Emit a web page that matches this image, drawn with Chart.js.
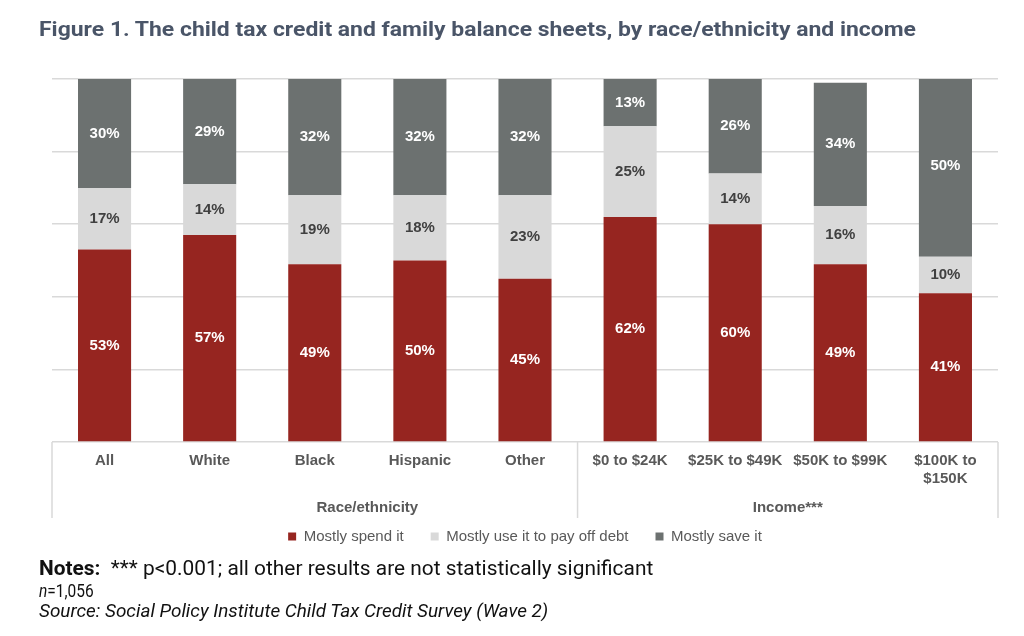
<!DOCTYPE html>
<html>
<head>
<meta charset="utf-8">
<script src="https://cdn.jsdelivr.net/npm/chart.js@4.4.0/dist/chart.umd.min.js"></script>
<style>
  body { margin: 0; background: #fff; }
  #page { position: relative; width: 1024px; height: 636px; overflow: hidden; font-family: Roboto, "Liberation Sans", sans-serif; }
  #chartBox { position: absolute; left: 0; top: 0; width: 1024px; height: 636px; }
  .txt { position: absolute; left: 39px; white-space: nowrap; transform-origin: 0 50%; line-height: 1; }
  #title { top: 19px; font-size: 21px; font-weight: 700; color: #4a5568; }
  #notes { top: 558px; font-size: 20px; color: #111; }
  #nline { top: 582px; font-size: 18px; color: #111; }
  #source { top: 602px; font-size: 18.5px; color: #111; font-style: italic; }
</style>
</head>
<body>
<div id="page">
  <div id="chartBox"><canvas id="myChart" width="1024" height="636"></canvas></div>
  <div class="txt" id="title">Figure 1. The child tax credit and family balance sheets, by race/ethnicity and income</div>
  <div class="txt" id="notes"><b>Notes:</b>&nbsp; *** p&lt;0.001; all other results are not statistically significant</div>
  <div class="txt" id="nline"><i>n</i>=1,056</div>
  <div class="txt" id="source">Source: Social Policy Institute Child Tax Credit Survey (Wave 2)</div>
</div>
<script>
// values (percent of respondents)
var categories = ["All", "White", "Black", "Hispanic", "Other", "$0 to $24K", "$25K to $49K", "$50K to $99K", "$100K to $150K"];
var tickLabels = ["All", "White", "Black", "Hispanic", "Other", "$0 to $24K", "$25K to $49K", "$50K to $99K", ["$100K to", "$150K"]];
var spend = [53, 57, 49, 50, 45, 62, 60, 49, 41];
var payDebt = [17, 14, 19, 18, 23, 25, 14, 16, 10];
var save = [30, 29, 32, 32, 32, 13, 26, 34, 50];
var seriesNames = ["Mostly spend it", "Mostly use it to pay off debt", "Mostly save it"];
var groupNames = ["Race/ethnicity", "Income***"];
var groupStart = [1, 5];
var groupEnd = [4, 8];

var colors = ["#962520", "#d9d9d9", "#6c7170"];
var labelColors = ["#ffffff", "#404040", "#ffffff"];
var FONT = "'Liberation Sans', Arial, sans-serif";

// stretch the html text lines to the widths in the figure
function fit(id, w) {
  var el = document.getElementById(id);
  el.style.transform = "scaleX(" + (w / el.offsetWidth) + ")";
}
fit("title", 877);
fit("notes", 614);
fit("nline", 55);
fit("source", 509);

var valueLabels = {
  id: "valueLabels",
  afterDatasetsDraw: function(chart) {
    var ctx = chart.ctx;
    ctx.save();
    ctx.font = "bold 15px " + FONT;
    ctx.textAlign = "center";
    ctx.textBaseline = "middle";
    chart.data.datasets.forEach(function(ds, di) {
      var meta = chart.getDatasetMeta(di);
      meta.data.forEach(function(bar, i) {
        ctx.fillStyle = labelColors[di];
        ctx.fillText(ds.data[i] + "%", bar.x, (bar.y + bar.base) / 2);
      });
    });
    ctx.restore();
  }
};

var groupAxis = {
  id: "groupAxis",
  afterDraw: function(chart) {
    var ctx = chart.ctx;
    var x = chart.scales.x;
    var area = chart.chartArea;
    var step = x.getPixelForValue(1) - x.getPixelForValue(0);
    var bottom = area.bottom + 76;
    var edges = [x.getPixelForValue(0) - step / 2];
    groupEnd.forEach(function(e) { edges.push(x.getPixelForValue(e) + step / 2); });
    ctx.save();
    ctx.strokeStyle = "#d9d9d9";
    ctx.lineWidth = 1.5;
    edges.forEach(function(px) {
      ctx.beginPath();
      ctx.moveTo(px, area.bottom);
      ctx.lineTo(px, bottom);
      ctx.stroke();
    });
    ctx.fillStyle = "#595959";
    ctx.font = "bold 15px " + FONT;
    ctx.textAlign = "center";
    ctx.textBaseline = "middle";
    groupNames.forEach(function(name, g) {
      var l = x.getPixelForValue(groupStart[g]) - step / 2;
      var r = x.getPixelForValue(groupEnd[g]) + step / 2;
      ctx.fillText(name, (l + r) / 2, area.bottom + 66);
    });
    ctx.restore();
  }
};

var ctx = document.getElementById("myChart").getContext("2d");
var myChart = new Chart(ctx, {
  type: "bar",
  data: {
    labels: tickLabels,
    datasets: [
      { label: seriesNames[0], data: spend, backgroundColor: colors[0] },
      { label: seriesNames[1], data: payDebt, backgroundColor: colors[1] },
      { label: seriesNames[2], data: save, backgroundColor: colors[2] }
    ]
  },
  options: {
    responsive: false,
    animation: false,
    devicePixelRatio: 1,
    datasets: { bar: { categoryPercentage: 1, barPercentage: 0.505, borderWidth: 0 } },
    layout: { padding: { left: 52, right: 26, top: 79, bottom: 82 } },
    scales: {
      x: {
        stacked: true,
        grid: { display: false, drawTicks: false },
        border: { display: false },
        ticks: { color: "#595959", font: { family: FONT, size: 15, weight: "bold", lineHeight: 1.2 }, padding: 10, maxRotation: 0, autoSkip: false },
        afterFit: function(s) { s.height = 60; }
      },
      y: {
        stacked: true,
        min: 0,
        max: 100,
        ticks: { display: false, stepSize: 20 },
        grid: { color: "#d9d9d9", lineWidth: 1.5, drawTicks: false },
        border: { display: false },
        afterFit: function(s) { s.width = 0; }
      }
    },
    plugins: {
      title: { display: false },
      tooltip: { enabled: false },
      legend: {
        position: "bottom",
        labels: { boxWidth: 8, boxHeight: 8, padding: 27, color: "#595959", font: { family: FONT, size: 15 } }
      }
    }
  },
  plugins: [valueLabels, groupAxis]
});
</script>
</body>
</html>
